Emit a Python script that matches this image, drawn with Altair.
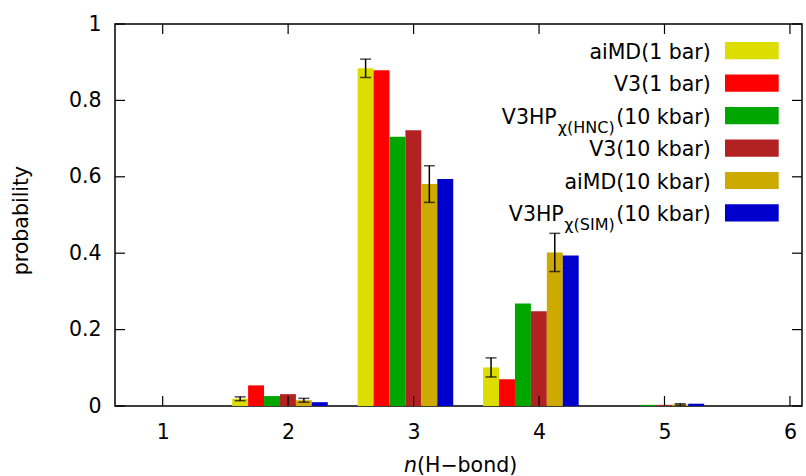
import altair as alt
import pandas as pd

# ---- data -------------------------------------------------------------
n_hbond = [1, 2, 3, 4, 5, 6]
y_ticks = [0, 0.2, 0.4, 0.6, 0.8, 1.0]

series = [
    "aiMD(1 bar)",
    "V3(1 bar)",
    "V3HP χ(HNC) (10 kbar)",
    "V3(10 kbar)",
    "aiMD(10 kbar)",
    "V3HP χ(SIM) (10 kbar)",
]
colors = ["#dddd00", "#ff0000", "#00a600", "#b22222", "#ccaa00", "#0000cc"]

aimd_1bar = [0.0, 0.019, 0.884, 0.101, 0.0, 0.0]
aimd_1bar_err = [0.0, 0.005, 0.024, 0.025, 0.0, 0.0]
v3_1bar = [0.0, 0.054, 0.879, 0.070, 0.0, 0.0]
v3hp_hnc_10kbar = [0.0, 0.026, 0.705, 0.268, 0.003, 0.0]
v3_10kbar = [0.0, 0.031, 0.722, 0.248, 0.003, 0.0]
aimd_10kbar = [0.0, 0.015, 0.581, 0.402, 0.004, 0.0]
aimd_10kbar_err = [0.0, 0.005, 0.048, 0.050, 0.002, 0.0]
v3hp_sim_10kbar = [0.0, 0.010, 0.594, 0.394, 0.006, 0.0]

values = [aimd_1bar, v3_1bar, v3hp_hnc_10kbar, v3_10kbar, aimd_10kbar, v3hp_sim_10kbar]
zeros = [0.0] * len(n_hbond)
errors = [aimd_1bar_err, zeros, zeros, zeros, aimd_10kbar_err, zeros]

rows = []
for k, (name, vals, errs) in enumerate(zip(series, values, errors)):
    for n, p, e in zip(n_hbond, vals, errs):
        rows.append({"n": n, "series": name, "k": k, "p": p, "err": e})
df = pd.DataFrame(rows)

# ---- layout -----------------------------------------------------------
W, H = 687, 382
FONT = "DejaVu Sans"
FS = 20.5

xscale = alt.Scale(domain=[0.62, 6.096], nice=False, zero=False)
yscale = alt.Scale(domain=[0, 1], nice=False)

xaxis = alt.Axis(values=n_hbond, format="d", title=None, labelPadding=16,
                 labelBaseline="top")
yaxis = alt.Axis(values=y_ticks, format="~g", title=None, labelPadding=14)

base = alt.Chart(df).transform_calculate(
    x0="datum.n - 0.446 + 0.127 * datum.k",
    x1="datum.x0 + 0.127",
    xc="datum.x0 + 0.0635",
)

bars = base.mark_rect().encode(
    x=alt.X("x0:Q", scale=xscale, axis=xaxis),
    x2="x1:Q",
    y=alt.Y("p:Q", scale=yscale, axis=yaxis),
    y2=alt.datum(0),
    color=alt.Color("series:N", scale=alt.Scale(domain=series, range=colors), legend=None),
)

err_base = base.transform_filter("datum.err > 0").transform_calculate(
    lo="datum.p - datum.err", hi="datum.p + datum.err"
)
err_lines = err_base.mark_rule(color="black", strokeWidth=1.5).encode(
    x=alt.X("xc:Q", scale=xscale), y=alt.Y("lo:Q", scale=yscale), y2="hi:Q"
)
err_caps = err_base.transform_fold(["lo", "hi"], as_=["end", "v"]).mark_tick(
    orient="horizontal", size=11, thickness=1.5, color="black"
).encode(x=alt.X("xc:Q", scale=xscale), y=alt.Y("v:Q", scale=yscale))

# inward (mirrored) ticks on all four sides
xt = alt.Chart(pd.DataFrame({"v": n_hbond}))
yt = alt.Chart(pd.DataFrame({"v": y_ticks}))
tick_style = dict(color="black", strokeWidth=1.2)
ticks = [
    xt.mark_rule(**tick_style).encode(x=alt.X("v:Q", scale=xscale), y=alt.value(H), y2=alt.value(H - 10)),
    xt.mark_rule(**tick_style).encode(x=alt.X("v:Q", scale=xscale), y=alt.value(0), y2=alt.value(10)),
    yt.mark_rule(**tick_style).encode(y=alt.Y("v:Q", scale=yscale), x=alt.value(0), x2=alt.value(10)),
    yt.mark_rule(**tick_style).encode(y=alt.Y("v:Q", scale=yscale), x=alt.value(W - 10), x2=alt.value(W)),
]


def label(text, x, y, size=FS, align="left", style="normal", angle=0, baseline="alphabetic"):
    return alt.Chart(pd.DataFrame({"t": [text]})).mark_text(
        align=align, baseline=baseline, font=FONT, fontSize=size,
        fontStyle=style, angle=angle, color="black",
    ).encode(x=alt.value(x), y=alt.value(y), text="t:N")


# legend: swatches plus text pieces (two entries carry a subscript)
ROW0, ROWSTEP = 26.7, 32.45
SUB_FS = 16
legend = []
text_right = 595.7
for k, name in enumerate(series):
    cy = ROW0 + ROWSTEP * k
    legend.append(
        alt.Chart(pd.DataFrame({"s": [name]})).mark_rect(color=colors[k]).encode(
            x=alt.value(610), x2=alt.value(663.7),
            y=alt.value(cy - 8.6), y2=alt.value(cy + 8.6),
        )
    )
    baseline_y = cy + 8
    if "χ" in name:
        head, sub, tail = name.split(" ", 2)
        sub_right = text_right - 96
        sub_width = 58 if "HNC" in sub else 51
        legend.append(label(tail, text_right, baseline_y, align="right"))
        legend.append(label(sub, sub_right, baseline_y + 9, size=SUB_FS, align="right"))
        legend.append(label(head, sub_right - sub_width, baseline_y, align="right"))
    else:
        legend.append(label(name, text_right, baseline_y, align="right"))

titles = [
    label("n", 289, 447.5, style="italic"),
    label("(H−bond)", 302, 447.5),
    label("probability", -93, 196.5, angle=270, align="center", baseline="middle"),
]

chart = alt.layer(bars, err_lines, err_caps, *ticks, *legend, *titles).properties(
    width=W, height=H, autosize="none",
    padding={"left": 115, "top": 24, "right": 4, "bottom": 70},
).configure_view(stroke="black", strokeWidth=1.5).configure_axis(
    grid=False, domain=False, ticks=False, tickSize=0,
    labelFont=FONT, labelFontSize=FS, labelColor="black",
)

chart.save("out.html", embed_options={"renderer": "svg", "actions": False})
